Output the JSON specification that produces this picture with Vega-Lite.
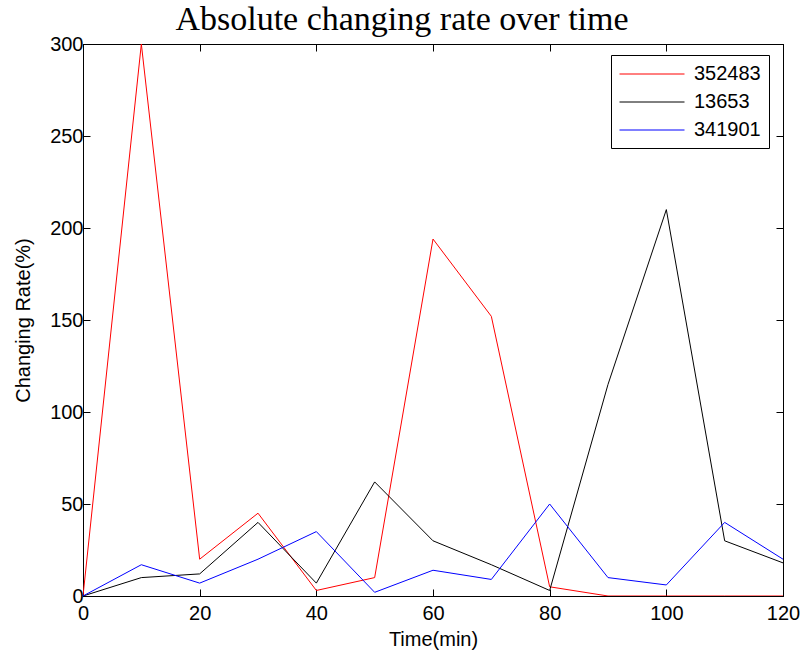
{
  "$schema": "https://vega.github.io/schema/vega-lite/v6.json",
  "autosize": "none",
  "padding": {"left": 83, "top": 44, "right": 20, "bottom": 60},
  "width": 700,
  "height": 552,
  "background": "white",
  "title": {"text": "Absolute changing rate over time", "font": "Liberation Serif", "fontSize": 34, "fontWeight": "normal", "color": "black", "offset": -3, "anchor": "middle", "dx": -31},
  "config": {
    "view": {"stroke": "black", "strokeWidth": 1},
    "axis": {"grid": false, "labelFlush": false, "domainColor": "black", "tickColor": "black", "labelColor": "black", "titleColor": "black", "labelFont": "Liberation Sans", "titleFont": "Liberation Sans", "labelFontSize": 20, "titleFontSize": 20, "titleFontWeight": "normal", "tickSize": -7, "labelPadding": 9}
  },
  "data": {"values": [
    {"t": 0, "v": 0, "s": "352483"}, {"t": 10, "v": 300, "s": "352483"}, {"t": 20, "v": 20, "s": "352483"}, {"t": 30, "v": 45, "s": "352483"}, {"t": 40, "v": 3, "s": "352483"}, {"t": 50, "v": 10, "s": "352483"}, {"t": 60, "v": 194, "s": "352483"}, {"t": 70, "v": 152, "s": "352483"}, {"t": 80, "v": 5, "s": "352483"}, {"t": 90, "v": 0, "s": "352483"}, {"t": 100, "v": 0, "s": "352483"}, {"t": 110, "v": 0, "s": "352483"}, {"t": 120, "v": 0, "s": "352483"},
    {"t": 0, "v": 0, "s": "13653"}, {"t": 10, "v": 10, "s": "13653"}, {"t": 20, "v": 12, "s": "13653"}, {"t": 30, "v": 40, "s": "13653"}, {"t": 40, "v": 7, "s": "13653"}, {"t": 50, "v": 62, "s": "13653"}, {"t": 60, "v": 30, "s": "13653"}, {"t": 70, "v": 17, "s": "13653"}, {"t": 80, "v": 3, "s": "13653"}, {"t": 90, "v": 115, "s": "13653"}, {"t": 100, "v": 210, "s": "13653"}, {"t": 110, "v": 30, "s": "13653"}, {"t": 120, "v": 18, "s": "13653"},
    {"t": 0, "v": 0, "s": "341901"}, {"t": 10, "v": 17, "s": "341901"}, {"t": 20, "v": 7, "s": "341901"}, {"t": 30, "v": 20, "s": "341901"}, {"t": 40, "v": 35, "s": "341901"}, {"t": 50, "v": 2, "s": "341901"}, {"t": 60, "v": 14, "s": "341901"}, {"t": 70, "v": 9, "s": "341901"}, {"t": 80, "v": 50, "s": "341901"}, {"t": 90, "v": 10, "s": "341901"}, {"t": 100, "v": 6, "s": "341901"}, {"t": 110, "v": 40, "s": "341901"}, {"t": 120, "v": 20, "s": "341901"}
  ]},
  "layer": [
    {
      "mark": {"type": "line", "strokeWidth": 1, "clip": true},
      "encoding": {
        "x": {"field": "t", "type": "quantitative", "scale": {"domain": [0, 120], "nice": false}, "axis": {"orient": "bottom", "title": "Time(min)", "values": [0, 20, 40, 60, 80, 100, 120], "titlePadding": 6, "labelPadding": 14}},
        "y": {"field": "v", "type": "quantitative", "scale": {"domain": [0, 300], "nice": false}, "axis": {"orient": "left", "title": "Changing Rate(%)", "values": [0, 50, 100, 150, 200, 250, 300], "titlePadding": 16, "labelPadding": 7}},
        "color": {"field": "s", "type": "nominal", "sort": ["352483", "13653", "341901"], "scale": {"domain": ["352483", "13653", "341901"], "range": ["#ff0000", "#000000", "#0000ff"]},
          "legend": {"title": null, "orient": "none", "legendX": 528, "legendY": 11, "strokeColor": "black", "fillColor": "white", "padding": 8, "symbolType": "M-1,0.05H5.5", "symbolSize": 400, "symbolStrokeWidth": 1, "labelFont": "Liberation Sans", "labelFontSize": 20, "labelColor": "black", "rowPadding": 7, "labelOffset": 54}}
      }
    },
    {
      "mark": {"type": "line", "opacity": 0},
      "encoding": {
        "x": {"field": "t", "type": "quantitative", "scale": {"domain": [0, 120], "nice": false}, "axis": {"orient": "top", "title": null, "labels": false, "values": [0, 20, 40, 60, 80, 100, 120]}},
        "y": {"field": "v", "type": "quantitative", "scale": {"domain": [0, 300], "nice": false}, "axis": {"orient": "right", "title": null, "labels": false, "values": [0, 50, 100, 150, 200, 250, 300]}},
        "detail": {"field": "s"}
      }
    }
  ],
  "resolve": {"axis": {"x": "independent", "y": "independent"}}
}
